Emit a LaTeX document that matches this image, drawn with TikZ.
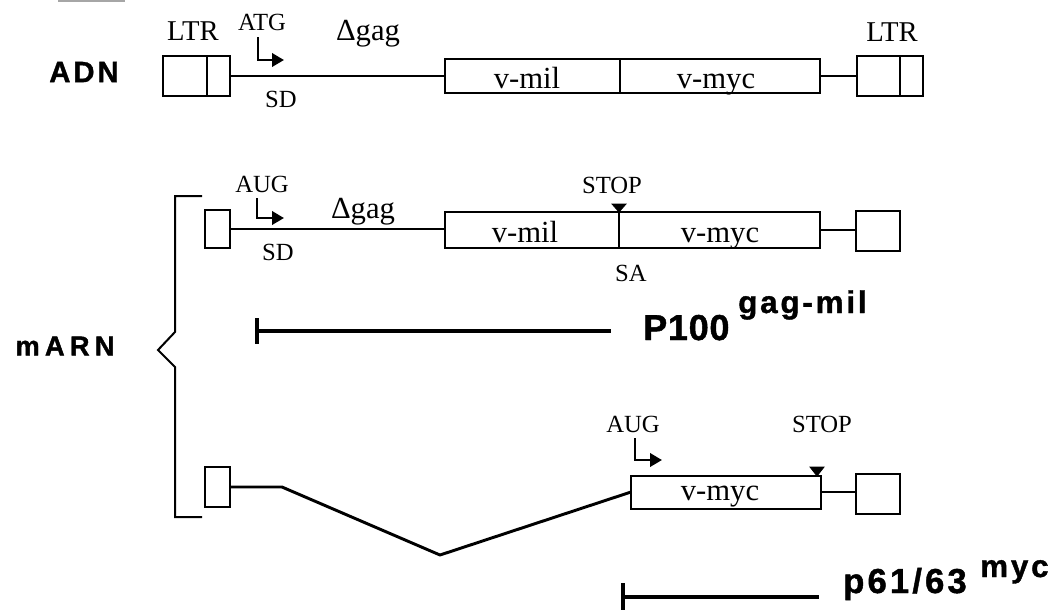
\documentclass[tikz,border=0pt]{standalone}
\usepackage{fontspec}
\setmainfont{Liberation Serif}
\newfontfamily\hv{Liberation Sans}
\usetikzlibrary{arrows.meta}
\newcommand{\trk}[2]{{\hv\bfseries\addfontfeature{LetterSpace=#1,FakeBold=1.2}#2}}
\begin{document}
\begin{tikzpicture}[x=0.75pt,y=-0.75pt,
  box/.style={draw, line width=1.5pt, inner sep=0pt, outer sep=0pt},
  lnk/.style={line width=1.4pt},
  divl/.style={line width=2pt},
  start/.style={line width=2pt, -{Triangle[length=9pt,width=10pt]}},
  stopmark/.style={fill=black, draw=black, line width=0.6pt},
  bar/.style={line width=3.4pt},
  splice/.style={line width=2.2pt, line join=round},
  brace/.style={line width=1.5pt},
  sl/.style={inner sep=0pt, anchor=base, font=\fontsize{18.5}{20}\selectfont},
  ltrl/.style={inner sep=0pt, anchor=base, font=\fontsize{21.5}{23}\selectfont},
  gagl/.style={inner sep=0pt, anchor=base, font=\fontsize{23}{25}\selectfont},
  bl/.style={inner sep=0pt, anchor=base, font=\fontsize{23}{25}\selectfont},
  big/.style={inner sep=0pt, anchor=base west}
]
\useasboundingbox (0,0) rectangle (1056,612);
\draw[gray!70, line width=1.5pt] (58,1) -- (125,1);

% ---------------- Row 1: ADN ----------------
\node[inner sep=0pt] (adn) at (84,72) {\fontsize{22}{24}\selectfont\trk{10}{ADN}};
\node[box, minimum width={67*0.75pt}, minimum height={40*0.75pt}] (ltrA) at (196.5,76) {};
\draw[lnk] (ltrA.north west) ++(44,0) -- ++(0,40);
\node[box, minimum width={375*0.75pt}, minimum height={34*0.75pt}] (mainA) at (632.5,76) {};
\draw[divl] (mainA.north west) ++(175,0) -- ++(0,34);
\node[box, minimum width={66*0.75pt}, minimum height={40*0.75pt}] (ltrB) at (890,76) {};
\draw[lnk] (ltrB.north west) ++(43,0) -- ++(0,40);
\draw[lnk] (ltrA.east) -- (mainA.west);
\draw[lnk] (mainA.east) -- (ltrB.west);
\node[ltrl] (ltrlabA) at (193,40) {LTR};
\node[ltrl] (ltrlabB) at (892,41) {LTR};
\node[sl] (atg) at (262,30) {ATG};
\coordinate (atgS) at (258,37);
\coordinate (atgE) at (284,60);
\draw[start] (atgS) |- (atgE);
\node[sl] (sdA) at (281,107) {SD};
\node[gagl] (gagA) at (368,40) {Δgag};
\node[bl] (milA) at (527,88) {v-mil};
\node[bl] (mycA) at (716,88) {v-myc};

% ---------------- Row 2: mARN gag-mil ----------------
\node[inner sep=0pt] (marn) at (65,346) {\fontsize{20.5}{22}\selectfont\trk{19}{mARN}};
\draw[brace] (202,196) -- (175,196) -- (175,332) -- (158,350) -- (175,367) -- (175,517) -- (202,517);
\node[box, minimum width={25*0.75pt}, minimum height={38*0.75pt}] (boxL2) at (217.5,229) {};
\node[box, minimum width={375*0.75pt}, minimum height={36*0.75pt}] (mainC) at (632.5,230) {};
\draw[divl] (mainC.north west) ++(174,0) -- ++(0,36);
\node[box, minimum width={44*0.75pt}, minimum height={40*0.75pt}] (boxR2) at (878,231) {};
\draw[lnk] (boxL2.east) -- (boxL2.east -| mainC.west);
\draw[lnk] (mainC.east) -- (mainC.east -| boxR2.west);
\node[sl] (aug2) at (262,192) {AUG};
\coordinate (augS2) at (257,198);
\coordinate (augE2) at (284,218);
\draw[start] (augS2) |- (augE2);
\node[sl] (sd2) at (278,260) {SD};
\node[gagl] (gag2) at (363,218) {Δgag};
\node[sl] (stop2) at (612,193) {STOP};
\draw[stopmark] (612,204) -- (626,204) -- (619,212) -- cycle;
\node[sl] (sa2) at (631,281) {SA};
\node[bl] (mil2) at (525,242) {v-mil};
\node[bl] (myc2) at (720,242) {v-myc};

% P100 bar
\coordinate (pA) at (257,331);
\coordinate (pB) at (611,331);
\draw[bar] (pA) -- (pB);
\draw[line width=2.6pt] (257,318) -- (257,344);
\node[big] (p100) at (643,340) {\fontsize{27}{29}\selectfont\trk{2}{P100}};
\node[big] (gagmil) at (738,313) {\fontsize{23.5}{25}\selectfont\trk{9}{gag-mil}};

% ---------------- Row 3: mARN myc ----------------
\node[box, minimum width={25*0.75pt}, minimum height={40*0.75pt}] (boxL3) at (217.5,487) {};
\node[box, minimum width={190*0.75pt}, minimum height={33*0.75pt}] (mainD) at (726,492) {};
\node[box, minimum width={44*0.75pt}, minimum height={40*0.75pt}] (boxR3) at (878,494) {};
\coordinate (k1) at (282,487);
\coordinate (k2) at (440,555);
\draw[splice] (boxL3.east) -- (k1) -- (k2) -- (mainD.west);
\draw[lnk] (mainD.east) -- (mainD.east -| boxR3.west);
\node[sl] (aug3) at (633,432) {AUG};
\coordinate (augS3) at (635,438);
\coordinate (augE3) at (662,460);
\draw[start] (augS3) |- (augE3);
\node[sl] (stop3) at (822,432) {STOP};
\draw[stopmark] (810,467) -- (824,467) -- (817,476) -- cycle;
\node[bl] (myc3) at (720,500) {v-myc};

% p61/63 bar
\coordinate (qA) at (623,597);
\coordinate (qB) at (819,597);
\draw[bar] (qA) -- (qB);
\draw[line width=2.6pt] (623,583) -- (623,610);
\node[big] (p61) at (843,593) {\fontsize{26}{28}\selectfont\trk{9}{p61/63}};
\node[big] (mycs) at (980,577) {\fontsize{23.5}{25}\selectfont\trk{9}{myc}};
\end{tikzpicture}
\end{document}
